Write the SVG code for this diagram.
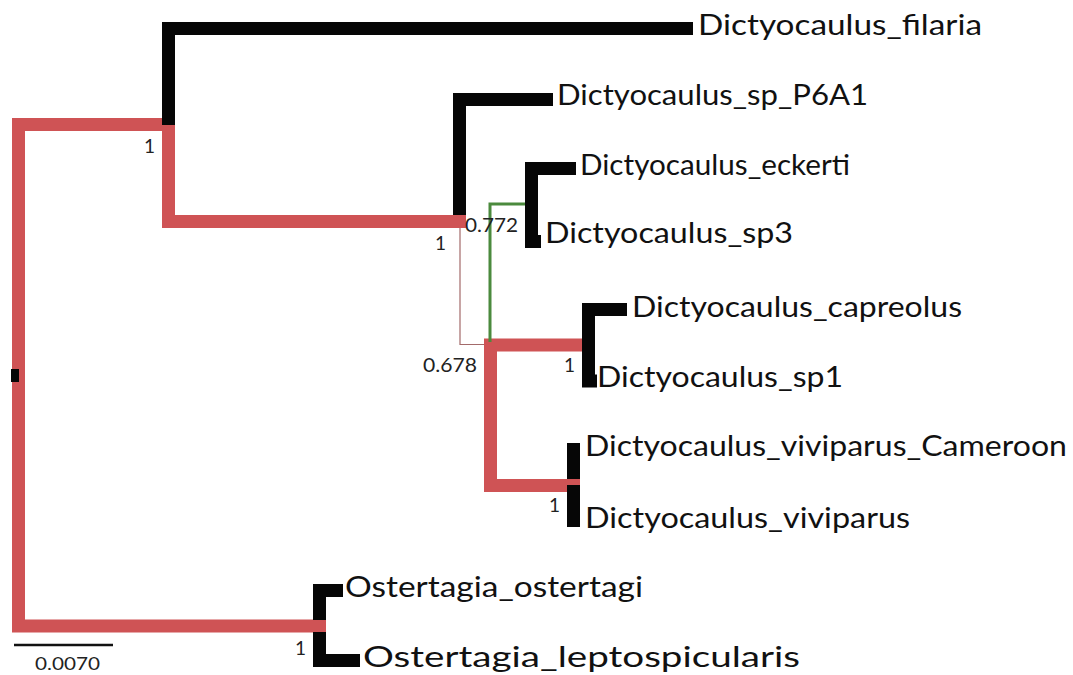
<svg xmlns="http://www.w3.org/2000/svg" width="1073" height="675" viewBox="0 0 1073 675">
<style>
.red{fill:none;stroke:#cf5355;stroke-width:13;stroke-linejoin:miter;stroke-linecap:butt}
.blk{fill:none;stroke:#060606;stroke-width:13;stroke-linejoin:miter;stroke-linecap:butt}
.lab{font-family:Lato,"Open Sans","DejaVu Sans",sans-serif;font-size:29px;fill:#111}
.sup{font-family:Lato,"Open Sans","DejaVu Sans",sans-serif;font-size:19px;fill:#222}
</style>
<rect width="1073" height="675" fill="#fff"/>
<g id="connectors">
  <!-- root and red backbone -->
  <path class="red" d="M175,124.5 H18.5 V626 H326"/>
  <path class="red" d="M168.5,124 V221.5 H466"/>
  <!-- filaria -->
  <path class="blk" d="M168.5,125 V28.5 H693"/>
  <!-- P6A1 -->
  <path class="blk" d="M459.5,215 V99.5 H553"/>
  <!-- thin brown link -->
  <path d="M460,228 V344.5 H490" fill="none" stroke="#a36a6a" stroke-width="1.2"/>
  <!-- red clade -->
  <path class="red" d="M589,345 H490.5 V485.5 H580"/>
  <!-- green link -->
  <path d="M490,342 V204 H528" fill="none" stroke="#4b8a3d" stroke-width="3"/>
  <!-- eckerti / sp3 -->
  <path class="blk" d="M576,168.5 H531.5 V241.5 H541"/>
  <!-- capreolus / sp1 -->
  <path class="blk" d="M627,309.5 H588.5 V381 H597"/>
  <!-- viviparus -->
  <rect x="567" y="443" width="13" height="84" fill="#060606"/>
  <rect x="567" y="479" width="13" height="6" fill="#cf5355"/>
  <!-- Ostertagia -->
  <path class="blk" d="M343,590.5 H319.5 V660.5 H360"/>
  <rect x="313" y="620" width="13" height="12" fill="#cf5355"/>
  <!-- root marker -->
  <rect x="11" y="369" width="8" height="13" fill="#060606"/>
  <!-- scale bar -->
  <line x1="14" y1="645" x2="113" y2="645" stroke="#111" stroke-width="2.5"/>
</g>
<g id="support-labels">
  <text class="sup" x="144" y="153">1</text>
  <text class="sup" x="435" y="250">1</text>
  <text class="sup" x="564" y="372">1</text>
  <text class="sup" x="549" y="512">1</text>
  <text class="sup" x="295" y="655">1</text>
  <text class="sup" x="465" y="232" textLength="53" lengthAdjust="spacingAndGlyphs">0.772</text>
  <text class="sup" x="423" y="372" textLength="54" lengthAdjust="spacingAndGlyphs">0.678</text>
  <text class="sup" x="35" y="670" textLength="65" lengthAdjust="spacingAndGlyphs" style="font-size:18px">0.0070</text>
</g>
<g id="node-filaria"><text class="lab" x="698" y="35" textLength="284" lengthAdjust="spacingAndGlyphs">Dictyocaulus_filaria</text></g>
<g id="node-P6A1"><text class="lab" x="557" y="105" textLength="311" lengthAdjust="spacingAndGlyphs">Dictyocaulus_sp_P6A1</text></g>
<g id="node-eckerti"><text class="lab" x="580" y="175" textLength="270" lengthAdjust="spacingAndGlyphs">Dictyocaulus_eckerti</text></g>
<g id="node-sp3"><text class="lab" x="545" y="243" textLength="248" lengthAdjust="spacingAndGlyphs">Dictyocaulus_sp3</text></g>
<g id="node-capreolus"><text class="lab" x="632" y="317" textLength="330" lengthAdjust="spacingAndGlyphs">Dictyocaulus_capreolus</text></g>
<g id="node-sp1"><text class="lab" x="597" y="387" textLength="246" lengthAdjust="spacingAndGlyphs">Dictyocaulus_sp1</text></g>
<g id="node-cameroon"><text class="lab" x="585" y="456" textLength="482" lengthAdjust="spacingAndGlyphs">Dictyocaulus_viviparus_Cameroon</text></g>
<g id="node-viviparus"><text class="lab" x="585" y="528" textLength="325" lengthAdjust="spacingAndGlyphs">Dictyocaulus_viviparus</text></g>
<g id="node-ostertagi"><text class="lab" x="345" y="597" textLength="298" lengthAdjust="spacingAndGlyphs">Ostertagia_ostertagi</text></g>
<g id="node-leptospicularis"><text class="lab" x="363" y="667" textLength="437" lengthAdjust="spacingAndGlyphs">Ostertagia_leptospicularis</text></g>
</svg>
